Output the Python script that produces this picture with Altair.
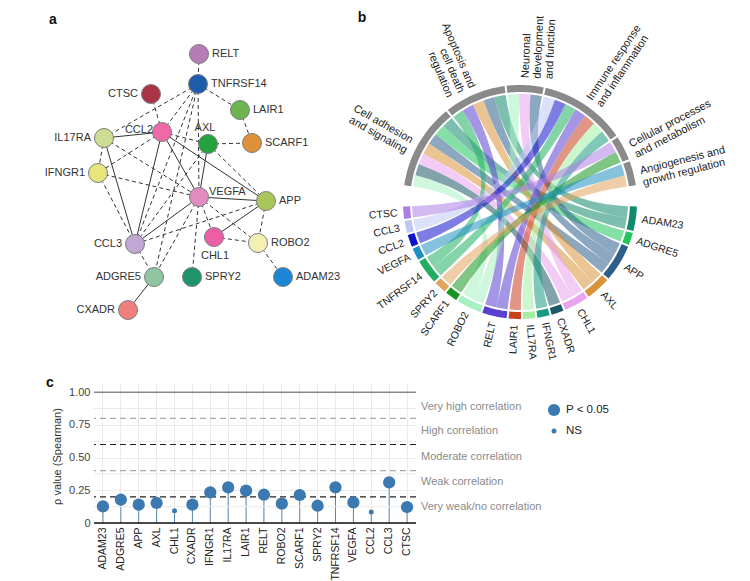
import math
import altair as alt
import pandas as pd

FONT = "Liberation Sans"

# ================= Panel a : interaction network =================
node_names = ["RELT", "TNFRSF14", "CTSC", "LAIR1", "CCL2", "AXL", "SCARF1", "IL17RA", "IFNGR1",
              "VEGFA", "APP", "CHL1", "ROBO2", "CCL3", "ADGRE5", "SPRY2", "ADAM23", "CXADR"]
node_x = [191, 190, 143, 232, 154, 200, 244, 96, 90, 191, 258, 206, 250, 127, 146, 184, 275, 120]
node_y = [46, 76, 86, 102, 124, 136, 135, 130, 165, 189, 193, 229, 235, 236, 269, 269, 269, 302]
node_colors = ["#b77bb5", "#1f5bab", "#a93546", "#6db350", "#ee6aa6", "#23a33f", "#de9138", "#cddd92",
               "#e6e67c", "#e38bc0", "#a9c65c", "#ee5ea6", "#f4f0b4", "#c2a6d3", "#8fc5a0", "#1f9469",
               "#1c86d6", "#ee7f7c"]
node_label_side = ["right", "right", "left", "right", "upleft", "top", "right", "left", "left",
                   "upright", "right", "bottom", "right", "left", "left", "right", "right", "left"]

solid_edges = [("IL17RA", "CCL2"), ("IL17RA", "CCL3"), ("CCL2", "CCL3"), ("CCL2", "VEGFA"),
               ("CCL2", "APP"), ("AXL", "VEGFA"), ("VEGFA", "APP"), ("VEGFA", "CCL3"),
               ("APP", "CHL1"), ("ADGRE5", "CXADR")]
dashed_edges = [("RELT", "TNFRSF14"), ("TNFRSF14", "LAIR1"), ("LAIR1", "SCARF1"), ("AXL", "SCARF1"),
                ("CTSC", "CCL2"), ("TNFRSF14", "IL17RA"), ("TNFRSF14", "CCL2"), ("TNFRSF14", "VEGFA"),
                ("TNFRSF14", "CCL3"), ("TNFRSF14", "ADGRE5"), ("CCL2", "AXL"), ("CCL2", "IFNGR1"),
                ("IL17RA", "IFNGR1"), ("IL17RA", "VEGFA"), ("IFNGR1", "VEGFA"), ("IFNGR1", "CCL3"),
                ("AXL", "APP"), ("AXL", "CCL3"), ("VEGFA", "CHL1"), ("VEGFA", "ROBO2"),
                ("VEGFA", "SPRY2"), ("VEGFA", "ADGRE5"), ("APP", "ROBO2"), ("APP", "CCL3"),
                ("CHL1", "ROBO2"), ("ROBO2", "ADAM23"), ("CCL3", "ADGRE5")]

# ================= Panel b : chord diagram =================
genes = ["ADAM23", "ADGRE5", "APP", "AXL", "CHL1", "CXADR", "IFNGR1", "IL17RA", "LAIR1", "RELT",
         "ROBO2", "SCARF1", "SPRY2", "TNFRSF14", "VEGFA", "CCL2", "CCL3", "CTSC"]
gene_colors = ["#138a6c", "#22c55a", "#2e5f8c", "#d89439", "#eaa3ef", "#1b5868", "#179b80", "#a3eea0",
               "#c9401e", "#5b3fcf", "#a6f0c2", "#16961f", "#e1a45e", "#21ae62", "#1f8fc2", "#1212cc",
               "#bfc6f2", "#ad7fe6"]
categories = ["Cell adhesion\nand signaling",
              "Apoptosis and\ncell death\nregulation",
              "Neuronal\ndevelopment\nand function",
              "Immune response\nand inflammation",
              "Cellular processes\nand metabolism",
              "Angiogenesis and\ngrowth regulation"]
category_color = "#8a8a8a"
links = [("ADAM23", 0), ("ADAM23", 1), ("ADGRE5", 0), ("APP", 0), ("APP", 1), ("APP", 2),
         ("AXL", 0), ("AXL", 1), ("CHL1", 0), ("CHL1", 2), ("CXADR", 0), ("IFNGR1", 3),
         ("IL17RA", 3), ("LAIR1", 3), ("RELT", 1), ("RELT", 3), ("ROBO2", 0), ("ROBO2", 2),
         ("SCARF1", 4), ("SPRY2", 5), ("TNFRSF14", 1), ("TNFRSF14", 3), ("VEGFA", 5),
         ("CCL2", 3), ("CCL3", 3), ("CTSC", 4)]

# ================= Panel c : Spearman correlations =================
c_genes = ["ADAM23", "ADGRE5", "APP", "AXL", "CHL1", "CXADR", "IFNGR1", "IL17RA", "LAIR1", "RELT",
           "ROBO2", "SCARF1", "SPRY2", "TNFRSF14", "VEGFA", "CCL2", "CCL3", "CTSC"]
rho = [0.127, 0.178, 0.140, 0.153, 0.094, 0.140, 0.234, 0.272, 0.247, 0.216,
       0.148, 0.214, 0.132, 0.272, 0.158, 0.084, 0.310, 0.122]
significant = [True, True, True, True, False, True, True, True, True, True,
               True, True, True, True, True, False, True, True]
band_labels = ["Very high correlation", "High correlation", "Moderate correlation",
               "Weak correlation", "Very weak/no correlation"]
band_label_y = [0.89, 0.70, 0.505, 0.315, 0.125]
thr_solid = [1.0]
thr_gray = [0.8, 0.4]
thr_black = [0.6, 0.2]
y_ticks = [0, 0.25, 0.5, 0.75, 1.0]
y_minor = [0.125, 0.375, 0.625, 0.875]

# ----------------------------------------------------------------- panel a
nodes_df = pd.DataFrame({"name": node_names, "x": node_x, "y": node_y,
                         "col": node_colors, "side": node_label_side})
pos = {n: (x, y) for n, x, y in zip(node_names, node_x, node_y)}
rows = []
for style, edges in (("solid", solid_edges), ("dashed", dashed_edges)):
    for i, (a, b) in enumerate(edges):
        for k, n in enumerate((a, b)):
            rows.append({"eid": f"{style}{i}", "o": k, "x": pos[n][0], "y": pos[n][1], "style": style})
edges_df = pd.DataFrame(rows)

xa = alt.Scale(domain=[0, 340], nice=False, zero=False)
ya = alt.Scale(domain=[0, 330], nice=False, zero=False, reverse=True)
XA = alt.X("x:Q", scale=xa, axis=None)
YA = alt.Y("y:Q", scale=ya, axis=None)

edge_base = alt.Chart(edges_df).encode(x=XA, y=YA, detail="eid:N", order="o:Q")
solid_l = edge_base.transform_filter("datum.style == 'solid'").mark_line(color="#333333", strokeWidth=1)
dashed_l = edge_base.transform_filter("datum.style == 'dashed'").mark_line(
    color="#333333", strokeWidth=1, strokeDash=[4, 3])
nodes_l = alt.Chart(nodes_df).mark_circle(size=361, opacity=1, stroke="#7d7d7d", strokeWidth=1).encode(
    x=XA, y=YA, color=alt.Color("col:N", scale=None))
side_cfg = {"right": dict(dx=13, dy=0, align="left"), "left": dict(dx=-13, dy=0, align="right"),
            "top": dict(dx=-3, dy=-16, align="center"), "bottom": dict(dx=1, dy=19, align="center"),
            "upright": dict(dx=10, dy=-5, align="left"), "upleft": dict(dx=-9, dy=-2, align="right")}
label_layers = []
for side, cfg in side_cfg.items():
    label_layers.append(
        alt.Chart(nodes_df).transform_filter(f"datum.side == '{side}'").mark_text(
            fontSize=11, color="#333333", baseline="middle", **cfg).encode(x=XA, y=YA, text="name:N"))
a_tag = alt.Chart(pd.DataFrame({"t": ["a"]})).mark_text(
    fontSize=14, fontWeight="bold", color="#111111", align="center", baseline="middle").encode(
    x=alt.value(45), y=alt.value(12), text="t:N")
panel_a = alt.layer(dashed_l, solid_l, nodes_l, *label_layers, a_tag).properties(width=340, height=330)

# ----------------------------------------------------------------- panel b
UNIT, GAP = 6.1, 1.0
R_IN, R_OUT, R_RIB, R_GLAB, R_CLAB = 110, 117, 108, 123, 124
total = len(links)
gene_count = {g: sum(1 for gg, _ in links if gg == g) for g in genes}
cat_count = [sum(1 for _, c in links if c == i) for i in range(len(categories))]

gene_rng = {}
a0 = 180 - (total * UNIT + (len(genes) - 1) * GAP) / 2
for g in genes:
    gene_rng[g] = (a0, a0 + gene_count[g] * UNIT)
    a0 += gene_count[g] * UNIT + GAP
cat_rng = []
a0 = -(total * UNIT + (len(categories) - 1) * GAP) / 2
for i in range(len(categories)):
    cat_rng.append((a0, a0 + cat_count[i] * UNIT))
    a0 += cat_count[i] * UNIT + GAP
gene_mid = {g: sum(r) / 2 for g, r in gene_rng.items()}
cat_mid = [sum(r) / 2 for r in cat_rng]

link_g, link_c = {}, {}
for g in genes:
    idx = [i for i, (gg, _) in enumerate(links) if gg == g]
    idx.sort(key=lambda i: (gene_mid[g] - cat_mid[links[i][1]]) % 360)
    s = gene_rng[g][0]
    for i in idx:
        link_g[i] = (s, s + UNIT)
        s += UNIT
for c in range(len(categories)):
    idx = [i for i, (_, cc) in enumerate(links) if cc == c]
    idx.sort(key=lambda i: (cat_mid[c] - gene_mid[links[i][0]]) % 360)
    s = cat_rng[c][0]
    for i in idx:
        link_c[i] = (s, s + UNIT)
        s += UNIT


def P(t, r):
    rad = math.radians(t)
    return (r * math.sin(rad), -r * math.cos(rad))


def arc(t1, t2, r, n=10):
    return [P(t1 + (t2 - t1) * k / (n - 1), r) for k in range(n)]


def bez(p0, p2, n=30):
    return [((1 - t) ** 2 * p0[0] + t ** 2 * p2[0], (1 - t) ** 2 * p0[1] + t ** 2 * p2[1])
            for t in [k / (n - 1) for k in range(n)]]


gcol = dict(zip(genes, gene_colors))
rib_rows = []
for i, (g, c) in enumerate(links):
    g1, g2 = link_g[i]
    c1, c2 = link_c[i]
    pts = arc(g1, g2, R_RIB) + bez(P(g2, R_RIB), P(c1, R_RIB)) + arc(c1, c2, R_RIB) + bez(P(c2, R_RIB), P(g1, R_RIB))
    for k, (x, y) in enumerate(pts):
        rib_rows.append({"id": f"r{i}", "o": k, "x": x, "y": y, "col": gcol[g]})
rib_df = pd.DataFrame(rib_rows)

sec_rows = []
sectors = [(f"g{g}", gene_rng[g], gcol[g]) for g in genes] + \
          [(f"c{i}", cat_rng[i], category_color) for i in range(len(categories))]
for sid, (t1, t2), col in sectors:
    pts = arc(t1, t2, R_OUT, 16) + arc(t2, t1, R_IN, 16)
    for k, (x, y) in enumerate(pts):
        sec_rows.append({"id": sid, "o": k, "x": x, "y": y, "col": col})
sec_df = pd.DataFrame(sec_rows)


def label_rows(names, mids, r):
    out = []
    for n, t in zip(names, mids):
        x, y = P(t, r)
        tt = t % 360
        inward = tt >= 180
        ang = (tt + 90) % 360 if inward else (tt - 90) % 360
        out.append({"text": n, "x": x, "y": y, "ang": ang, "inward": inward})
    return pd.DataFrame(out)


glab_df = label_rows(genes, [gene_mid[g] for g in genes], R_GLAB)
clab_df = label_rows(categories, cat_mid, R_CLAB)

xb = alt.Scale(domain=[-172, 180], nice=False, zero=False)
yb = alt.Scale(domain=[-194, 168], nice=False, zero=False, reverse=True)
XB = alt.X("x:Q", scale=xb, axis=None)
YB = alt.Y("y:Q", scale=yb, axis=None)

ribbons = alt.Chart(rib_df).mark_line(strokeWidth=0, fillOpacity=0.55).encode(
    x=XB, y=YB, detail="id:N", order="o:Q", fill=alt.Fill("col:N", scale=None))
secs = alt.Chart(sec_df).mark_line(strokeWidth=0, fillOpacity=1).encode(
    x=XB, y=YB, detail="id:N", order="o:Q", fill=alt.Fill("col:N", scale=None))
b_layers = [ribbons, secs]
for df, size in ((glab_df, 10.5), (clab_df, 11)):
    for inward, align in ((True, "right"), (False, "left")):
        b_layers.append(
            alt.Chart(df[df["inward"] == inward]).mark_text(
                fontSize=size, color="#222222", align=align, baseline="middle", lineBreak="\n",
                lineHeight=12).encode(x=XB, y=YB, text="text:N", angle=alt.Angle("ang:Q", scale=None)))
b_tag = alt.Chart(pd.DataFrame({"t": ["b"]})).mark_text(
    fontSize=14, fontWeight="bold", color="#111111", align="center", baseline="middle").encode(
    x=alt.value(14), y=alt.value(10), text="t:N")
panel_b = alt.layer(*b_layers, b_tag).properties(width=352, height=362)

# ----------------------------------------------------------------- panel c
c_df = pd.DataFrame({"gene": c_genes, "rho": rho,
                     "sig": ["P < 0.05" if s else "NS" for s in significant]})
YSC = alt.Scale(domain=[0, 1.07], nice=False, zero=False)
AXY = alt.Axis(values=y_ticks, labelExpr="datum.value == 0 ? '0' : format(datum.value, '.2f')",
               labelFontSize=11, labelColor="#444444",
               labelOverlap=False, ticks=False, domain=False, labelPadding=4, grid=True,
               gridColor="#ebebeb",
               title="ρ value (Spearman)", titleFontSize=11, titleFontWeight="normal",
               titleColor="#333333", titleX=-37, titleY=73, titleAngle=270,
               titleAlign="center", titleBaseline="middle")
XC = alt.X("gene:N", sort=c_genes, title=None,
           axis=alt.Axis(labelAngle=270, labelFontSize=10.5, labelColor="#222222", ticks=False,
                         domain=False, labelPadding=4, grid=True, gridColor="#ebebeb"))
YC = alt.Y("rho:Q", scale=YSC, axis=AXY)
YV = alt.Y("v:Q", scale=YSC, axis=AXY)

base_c = alt.Chart(c_df)
stems = base_c.mark_rule(color="#5a88b0", strokeWidth=1).encode(x=XC, y=YC, y2=alt.datum(0))


def thr_layer(vals, color, dash, width):
    kw = dict(color=color, strokeWidth=width)
    if dash:
        kw["strokeDash"] = dash
    return alt.Chart(pd.DataFrame({"v": vals})).mark_rule(**kw).encode(y=YV)


minor = thr_layer(y_minor, "#ebebeb", None, 1)
thr1 = thr_layer(thr_solid, "#555555", None, 1)
thr2 = thr_layer(thr_gray, "#a8a8a8", [6, 4], 1.2)
thr3 = thr_layer(thr_black, "#222222", [6, 4], 1.2)
base0 = thr_layer([0], "#111111", None, 1.5)
dots = base_c.mark_circle(color="#3b79b0", opacity=1).encode(
    x=XC, y=YC, size=alt.Size("sig:N", scale=alt.Scale(domain=["P < 0.05", "NS"], range=[150, 25]),
                              legend=None))
band_df = pd.DataFrame({"t": band_labels, "v": band_label_y})
band_txt = alt.Chart(band_df).mark_text(align="left", baseline="middle", fontSize=11,
                                        color="#8a8a8a").encode(
    x=alt.value(327), y=YV, text="t:N")
leg_big = alt.Chart(pd.DataFrame({"t": ["P < 0.05"]})).mark_circle(size=150, color="#3b79b0", opacity=1).encode(
    x=alt.value(460), y=alt.value(27))
leg_small = alt.Chart(pd.DataFrame({"t": ["NS"]})).mark_circle(size=25, color="#3b79b0", opacity=1).encode(
    x=alt.value(460), y=alt.value(48))
leg_t1 = alt.Chart(pd.DataFrame({"t": ["P < 0.05"]})).mark_text(
    align="left", baseline="middle", fontSize=11.5, color="#222222").encode(
    x=alt.value(472), y=alt.value(27), text="t:N")
leg_t2 = alt.Chart(pd.DataFrame({"t": ["NS"]})).mark_text(
    align="left", baseline="middle", fontSize=11.5, color="#222222").encode(
    x=alt.value(472), y=alt.value(48), text="t:N")
c_tag = alt.Chart(pd.DataFrame({"t": ["c"]})).mark_text(
    fontSize=14, fontWeight="bold", color="#111111", align="center", baseline="middle").encode(
    x=alt.value(-44), y=alt.value(0), text="t:N")
panel_c = alt.layer(stems, minor, thr2, thr3, thr1, base0, dots, band_txt, leg_big, leg_small, leg_t1,
                    leg_t2, c_tag).properties(width=322, height=140)

spacer = alt.Chart(pd.DataFrame({"v": [0]})).mark_point(opacity=0, size=1).encode(
    x=alt.value(43), y=alt.value(70)).properties(width=86, height=140)

row1 = alt.hconcat(panel_a, panel_b, spacing=0, bounds="flush")
row2 = alt.hconcat(spacer, panel_c, spacing=0, bounds="flush")
chart = alt.vconcat(row1, row2, spacing=6).properties(padding=0).configure(
    font=FONT).configure_view(stroke=None)

chart.save("out.html", embed_options={"renderer": "svg", "actions": False})
